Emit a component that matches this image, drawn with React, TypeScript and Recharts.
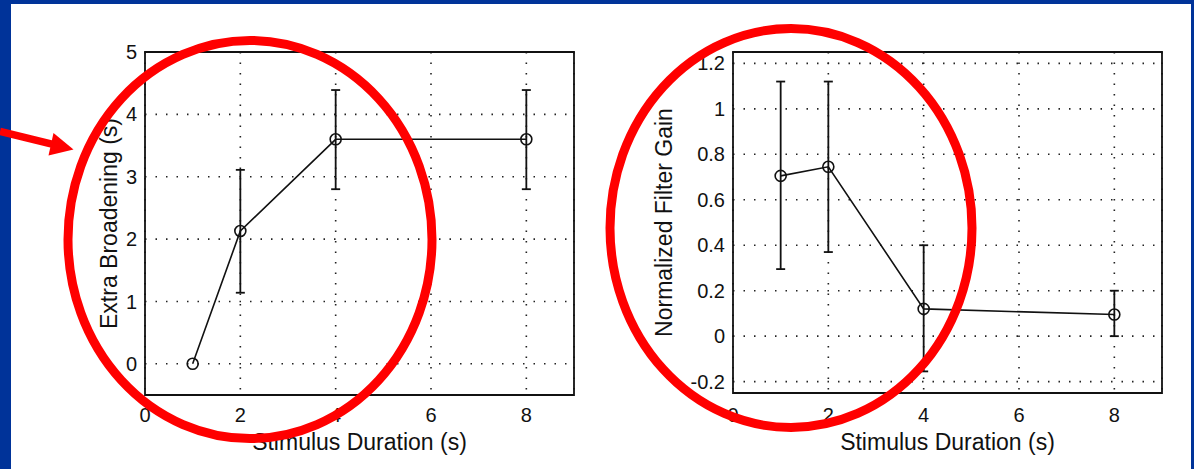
import React from 'react';
import { LineChart, Line, XAxis, YAxis, CartesianGrid, ErrorBar, ReferenceArea } from 'recharts';

// stimulus durations (s)
const durations = [1, 2, 4, 8];
const xTicks = [0, 2, 4, 6, 8];

// left panel: extra broadening (s), with error bar bounds
const broadening = [0, 2.13, 3.6, 3.6];
const broadeningLow: (number | null)[] = [null, 1.14, 2.8, 2.8];
const broadeningHigh: (number | null)[] = [null, 3.11, 4.39, 4.39];
const broadeningTicks = [0, 1, 2, 3, 4, 5];

// right panel: normalized filter gain, with error bar bounds
const gain = [0.705, 0.745, 0.12, 0.095];
const gainLow: (number | null)[] = [0.295, 0.37, -0.155, 0];
const gainHigh: (number | null)[] = [1.12, 1.12, 0.4, 0.2];
const gainTicks = [-0.2, 0, 0.2, 0.4, 0.6, 0.8, 1, 1.2];

const FONT = '"Liberation Sans", Arial, Helvetica, sans-serif';
const INK = '#111';
const RED = '#ff0000';
const BLUE = '#003399';

const buildRows = (ys: number[], lo: (number | null)[], hi: (number | null)[]) =>
  durations.map((d, i) => ({
    x: d,
    y: ys[i],
    err: lo[i] == null || hi[i] == null ? null : [ys[i] - (lo[i] as number), (hi[i] as number) - ys[i]],
  }));

interface PanelProps {
  data: ReturnType<typeof buildRows>;
  yDomain: [number, number];
  yTicks: number[];
  yLabel: string;
  yAxisWidth: number;
  yLabelOffset: number;
  marginRight: number;
  xAxisHeight: number;
  xTickMargin: number;
}

const Panel: React.FC<PanelProps> = ({
  data, yDomain, yTicks, yLabel, yAxisWidth, yLabelOffset, marginRight, xAxisHeight, xTickMargin,
}) => (
  <LineChart width={600} height={469} data={data} margin={{ top: 52, right: marginRight, bottom: 0, left: 0 }}>
    <CartesianGrid stroke="#222" strokeDasharray="1.5 9" strokeWidth={1.6} />
    <XAxis
      type="number"
      dataKey="x"
      domain={[0, 9]}
      ticks={xTicks}
      allowDataOverflow
      height={xAxisHeight}
      axisLine={false}
      tickLine={false}
      tickSize={0}
      tickMargin={xTickMargin}
      tick={{ fill: INK, fontSize: 20, fontFamily: FONT }}
      label={{ value: 'Stimulus Duration (s)', position: 'insideBottom', offset: 19, fill: INK, fontSize: 23, fontFamily: FONT }}
    />
    <YAxis
      type="number"
      domain={yDomain}
      ticks={yTicks}
      allowDataOverflow
      width={yAxisWidth}
      axisLine={false}
      tickLine={false}
      tickSize={0}
      tickMargin={8}
      tick={{ fill: INK, fontSize: 20, fontFamily: FONT }}
      label={{
        value: yLabel,
        angle: -90,
        position: 'insideLeft',
        offset: yLabelOffset,
        fill: INK,
        fontSize: 23,
        fontFamily: FONT,
        style: { textAnchor: 'middle' },
      }}
    />
    <ReferenceArea x1={0} x2={9} y1={yDomain[0]} y2={yDomain[1]} fill="none" stroke={INK} strokeWidth={1.8} ifOverflow="visible" />
    <Line
      type="linear"
      dataKey="y"
      stroke={INK}
      strokeWidth={1.6}
      dot={{ r: 5.5, stroke: INK, strokeWidth: 1.6, fill: 'none' }}
      activeDot={false}
      isAnimationActive={false}
    >
      <ErrorBar dataKey="err" direction="y" width={4.5} stroke={INK} strokeWidth={1.8} isAnimationActive={false} />
    </Line>
  </LineChart>
);

export default function App() {
  const left = buildRows(broadening, broadeningLow, broadeningHigh);
  const right = buildRows(gain, gainLow, gainHigh);
  return (
    <div style={{ position: 'absolute', left: 0, top: 0, width: 1194, height: 469, background: '#fff', overflow: 'hidden', fontFamily: FONT }}>
      <div style={{ position: 'absolute', left: 0, top: 0, width: 11, height: 469, background: BLUE }} />
      <div style={{ position: 'absolute', left: 0, top: 0, width: 1194, height: 4, background: BLUE }} />
      <div style={{ position: 'absolute', left: 1191, top: 0, width: 3, height: 469, background: BLUE }} />

      <div style={{ position: 'absolute', left: 0, top: 0 }}>
        <Panel
          data={left}
          yDomain={[-0.5, 5]}
          yTicks={broadeningTicks}
          yLabel="Extra Broadening (s)"
          yAxisWidth={145}
          yLabelOffset={109}
          marginRight={26}
          xAxisHeight={74}
          xTickMargin={13}
        />
      </div>
      <div style={{ position: 'absolute', left: 594, top: 0 }}>
        <Panel
          data={right}
          yDomain={[-0.25, 1.25]}
          yTicks={gainTicks}
          yLabel="Normalized Filter Gain"
          yAxisWidth={139}
          yLabelOffset={70}
          marginRight={32}
          xAxisHeight={76}
          xTickMargin={15}
        />
      </div>

      {/* red annotations */}
      <svg width={1194} height={469} style={{ position: 'absolute', left: 0, top: 0, pointerEvents: 'none' }}>
        <ellipse cx={250} cy={239.5} rx={182} ry={199} fill="none" stroke={RED} strokeWidth={9} />
        <ellipse cx={791} cy={228} rx={181} ry={199.5} fill="none" stroke={RED} strokeWidth={9} />
        <line x1={0} y1={131.5} x2={53} y2={144.3} stroke={RED} strokeWidth={7.5} />
        <polygon points="73.5,149.5 53.5,133 48.5,155.5" fill={RED} />
      </svg>
    </div>
  );
}
